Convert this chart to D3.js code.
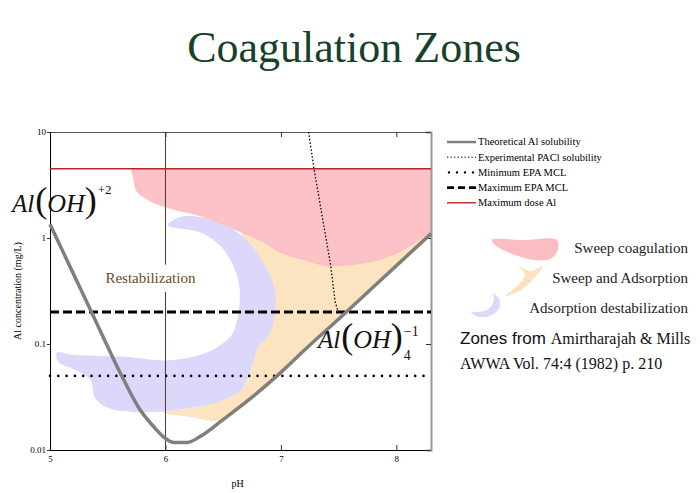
<!DOCTYPE html>
<html>
<head>
<meta charset="utf-8">
<script src="https://cdn.jsdelivr.net/npm/d3@7"></script>
<style>
  body { margin: 0; background: #fff; }
  svg { display: block; }
  text { font-family: "Liberation Serif", "Times New Roman", serif; }
</style>
</head>
<body>
<div id="chart"></div>
<script>
//axis ticks
const phTicks = [5, 6, 7, 8];
const concTicks = [0.01, 0.1, 1, 10];
const concTickLabels = ["0.01", "0.1", "1", "10"];

//reference levels (mg/L) and pH
const maxDoseAl = 4.5;
const maxEpaMcl = 0.2;
const minEpaMcl = 0.05;
const restabPH = 6;

//theoretical Al solubility [pH, mg/L]
const solubility = [
  [5.0, 1.35], [5.35, 0.21], [5.44, 0.13], [5.61, 0.053], [5.78, 0.024],
  [5.9, 0.0165], [5.98, 0.0134], [6.07, 0.0118], [6.19, 0.0118], [6.3, 0.0134],
  [6.49, 0.019], [6.71, 0.029], [7.0, 0.054], [7.23, 0.093], [7.52, 0.18], [8.3, 1.1],
];

//experimental PACl solubility [pH, mg/L]
const paclSolubility = [[7.24, 10], [7.285, 4.6], [7.43, 0.56], [7.47, 0.25], [7.5, 0.195]];

//sweep coagulation zone, lower edge (upper edge is max dose)
const sweepBottom = [
  [5.7, 4.5], [5.72, 3.7], [5.74, 2.87], [5.84, 2.31], [5.98, 1.98], [6.3, 1.6],
  [6.65, 1.13], [6.83, 0.93], [7.0, 0.72], [7.17, 0.63], [7.43, 0.54], [7.8, 0.6],
  [8.1, 0.81], [8.3, 1.15],
];

//sweep and adsorption zone outline
const sweepAdsorption = [
  [8.3, 1.2], [8.1, 0.85], [7.8, 0.63], [7.43, 0.57], [7.17, 0.66], [7.0, 0.76],
  [6.83, 0.98], [6.66, 1.16], [6.8, 0.6], [6.88, 0.25], [6.78, 0.08], [6.65, 0.036],
  [6.3, 0.026], [6.0, 0.0225], [6.22, 0.0205], [6.49, 0.019], [6.71, 0.029],
  [7.0, 0.054], [7.23, 0.093], [7.52, 0.18], [8.3, 1.1],
];

//adsorption destabilization zone outline
const adsorption = [
  [6.02, 1.34], [6.16, 1.6], [6.45, 1.43], [6.68, 1.01], [6.83, 0.63], [6.93, 0.38],
  [6.96, 0.26], [6.95, 0.21], [6.93, 0.15], [6.87, 0.11], [6.82, 0.1], [6.76, 0.067],
  [6.71, 0.046], [6.65, 0.036], [6.48, 0.029], [6.22, 0.025], [5.98, 0.023],
  [5.7, 0.023], [5.5, 0.025], [5.39, 0.031], [5.35, 0.046], [5.2, 0.058],
  [5.07, 0.068], [5.06, 0.083], [5.2, 0.079], [5.7, 0.075], [5.98, 0.07],
  [6.22, 0.075], [6.42, 0.089], [6.57, 0.12], [6.61, 0.15], [6.64, 0.23],
  [6.64, 0.35], [6.59, 0.54], [6.48, 0.83], [6.3, 1.13], [6.04, 1.28],
];

const legendItems = [
  "Theoretical Al solubility",
  "Experimental PACl solubility",
  "Minimum EPA MCL",
  "Maximum EPA MCL",
  "Maximum dose Al",
];

const colors = {
  sweep: "#fcbdc2",
  sweepAds: "#fde4c0",
  ads: "#dbd8fb",
  curve: "#7f7f7f",
  red: "#b3262a",
};

const serif = "Liberation Serif, Times New Roman, serif";

const main = () => {
  const W = 700, H = 493;
  const margin = { top: 132, right: 269, bottom: 43, left: 50 };
  const width = W - margin.left - margin.right;
  const height = H - margin.top - margin.bottom;

  const root = d3.select("#chart").append("svg")
    .attr("width", W).attr("height", H)
    .attr("font-family", serif);

  //title
  root.append("text")
    .attr("x", 354).attr("y", 62)
    .attr("text-anchor", "middle")
    .attr("font-size", 44)
    .attr("fill", "#17412a")
    .text("Coagulation Zones");

  const svg = root.append("g").attr("transform", `translate(${margin.left}, ${margin.top})`);

  const x = d3.scaleLinear().domain([5, 8.3]).range([0, width]);
  const y = d3.scaleLog().domain([0.01, 10]).range([height, 0]);

  const line = d3.line().x((d) => x(d[0])).y((d) => y(d[1]));

  //zones
  svg.append("path")
    .attr("d", line.curve(d3.curveCatmullRomClosed)(sweepAdsorption))
    .attr("fill", colors.sweepAds);
  svg.append("path")
    .attr("d", line.curve(d3.curveCatmullRomClosed)(adsorption))
    .attr("fill", colors.ads);
  svg.append("path")
    .attr("d", d3.area()
      .x((d) => x(d[0]))
      .y0(y(maxDoseAl))
      .y1((d) => y(d[1]))
      .curve(d3.curveMonotoneX)(sweepBottom))
    .attr("fill", colors.sweep)
    .attr("fill-opacity", 0.92);

  //axes
  svg.append("g")
    .attr("transform", `translate(0, ${height})`)
    .call(d3.axisBottom(x).tickValues(phTicks).tickSize(-5).tickPadding(6).tickFormat(d3.format("d")))
    .call((g) => g.selectAll("text").attr("font-size", 9).attr("font-family", serif));
  svg.append("g")
    .call(d3.axisTop(x).tickValues(phTicks).tickSize(-5).tickFormat(""))
    .call((g) => g.select(".domain").attr("stroke", "#555"));
  svg.append("g")
    .call(d3.axisLeft(y).tickValues(concTicks).tickSize(3).tickPadding(1)
      .tickFormat((d, i) => concTickLabels[i]))
    .call((g) => g.selectAll("text").attr("font-size", 9).attr("font-family", serif));
  svg.append("g")
    .attr("transform", `translate(${width}, 0)`)
    .call(d3.axisRight(y).tickValues(concTicks).tickSize(-5).tickFormat(""))
    .call((g) => g.select(".domain").attr("stroke", "#999").attr("stroke-width", 2));
  svg.selectAll(".tick line").attr("stroke", "#333");

  //restabilization pH line
  svg.append("line")
    .attr("x1", x(restabPH)).attr("x2", x(restabPH))
    .attr("y1", 0).attr("y2", height)
    .attr("stroke", "#4a3828").attr("stroke-width", 1);

  //max dose
  svg.append("line")
    .attr("x1", 0).attr("x2", width)
    .attr("y1", y(maxDoseAl)).attr("y2", y(maxDoseAl))
    .attr("stroke", colors.red).attr("stroke-width", 1.6);

  //EPA MCL lines
  svg.append("line")
    .attr("x1", 0).attr("x2", width)
    .attr("y1", y(minEpaMcl)).attr("y2", y(minEpaMcl))
    .attr("stroke", "#000").attr("stroke-width", 2.6)
    .attr("stroke-linecap", "round").attr("stroke-dasharray", "0 8.3");
  svg.append("line")
    .attr("x1", 0).attr("x2", width)
    .attr("y1", y(maxEpaMcl)).attr("y2", y(maxEpaMcl))
    .attr("stroke", "#000").attr("stroke-width", 3)
    .attr("stroke-dasharray", "9 4");

  //solubility curves
  svg.append("path")
    .attr("d", line.curve(d3.curveMonotoneX)(solubility))
    .attr("fill", "none").attr("stroke", colors.curve).attr("stroke-width", 3.5);
  svg.append("path")
    .attr("d", line.curve(d3.curveLinear)(paclSolubility))
    .attr("fill", "none").attr("stroke", "#000").attr("stroke-width", 1.3)
    .attr("stroke-dasharray", "1.5 2");

  //restabilization label
  svg.append("rect")
    .attr("x", x(5.45)).attr("y", y(0.56))
    .attr("width", x(6.4) - x(5.45)).attr("height", y(0.31) - y(0.56))
    .attr("fill", "#fff");
  svg.append("text")
    .attr("x", x(5.87)).attr("y", y(0.375))
    .attr("text-anchor", "middle")
    .attr("font-size", 15).attr("fill", "#6b4b1e")
    .text("Restabilization");

  //species labels
  const species = (g, px, py, charge, sub) => {
    const t = g.append("text").attr("x", px).attr("y", py).attr("fill", "#111");
    t.append("tspan").attr("font-style", "italic").attr("font-size", 25).text("Al");
    t.append("tspan").attr("font-size", 36).attr("dx", 1).text("(");
    t.append("tspan").attr("font-style", "italic").attr("font-size", 26).text("OH");
    t.append("tspan").attr("font-size", 36).text(")");
    if (sub) {
      t.append("tspan").attr("font-size", 14).attr("dx", 1).attr("dy", 12).text(sub);
      t.append("tspan").attr("font-size", 14).attr("dx", -7).attr("dy", -24).text(charge);
    } else {
      t.append("tspan").attr("font-size", 13).attr("dx", 1).attr("dy", -18).text(charge);
    }
  };
  species(root, 12, 212, "+2", null);
  species(root, 318, 348, "\u22121", "4");

  //axis titles
  root.append("text")
    .attr("transform", `translate(21, ${margin.top + height / 2}) rotate(-90)`)
    .attr("text-anchor", "middle").attr("font-size", 10)
    .text("Al concentration (mg/L)");
  root.append("text")
    .attr("x", margin.left + width / 2 - 3).attr("y", 487)
    .attr("text-anchor", "middle").attr("font-size", 10)
    .text("pH");

  //legend
  const lg = root.append("g").attr("transform", "translate(447, 142)");
  const styles = [
    { stroke: colors.curve, w: 2.5, dash: null },
    { stroke: "#000", w: 1, dash: "1.3 2.2" },
    { stroke: "#000", w: 2.4, dash: "0 8", cap: "round" },
    { stroke: "#000", w: 2.8, dash: "7 4" },
    { stroke: colors.red, w: 1.4, dash: null },
  ];
  legendItems.forEach((name, i) => {
    const row = lg.append("g").attr("transform", `translate(0, ${i * 15.2})`);
    row.append("line")
      .attr("x1", styles[i].cap ? 2 : 0).attr("x2", 29)
      .attr("stroke", styles[i].stroke).attr("stroke-width", styles[i].w)
      .attr("stroke-dasharray", styles[i].dash)
      .attr("stroke-linecap", styles[i].cap || "butt");
    row.append("text")
      .attr("x", 31).attr("dy", "0.33em")
      .attr("font-size", 10.5).text(name);
  });

  //zone key on the right
  const blob = d3.line().curve(d3.curveCatmullRomClosed);
  root.append("path")
    .attr("d", blob([
      [492, 240], [524, 240], [557, 240], [557, 252], [550, 259], [535, 260],
      [518, 256], [503, 250], [494, 244],
    ]))
    .attr("fill", colors.sweep);
  root.append("path")
    .attr("d", blob([
      [519, 266], [530, 271], [543, 266], [534, 278], [521, 290], [505, 296],
      [517, 286], [525, 275],
    ]))
    .attr("fill", "#fce2bd");
  root.append("path")
    .attr("d", blob([
      [493, 293], [499, 299], [500, 306], [495, 313], [486, 317], [476, 316],
      [471, 312], [479, 312], [487, 310], [492, 305], [494, 299],
    ]))
    .attr("fill", colors.ads);

  const keyText = [
    ["Sweep coagulation", 253],
    ["Sweep and Adsorption", 283],
    ["Adsorption destabilization", 313],
  ];
  keyText.forEach(([t, yy]) => {
    root.append("text")
      .attr("x", 688).attr("y", yy)
      .attr("text-anchor", "end").attr("font-size", 15).attr("fill", "#222")
      .text(t);
  });

  const src = root.append("text").attr("x", 460).attr("y", 344).attr("font-size", 16).attr("fill", "#111");
  src.append("tspan").attr("font-family", "Liberation Sans, Arial, sans-serif").attr("font-size", 17).text("Zones from ");
  src.append("tspan").text("Amirtharajah & Mills");
  root.append("text").attr("x", 460).attr("y", 369).attr("font-size", 16).attr("fill", "#111")
    .text("AWWA Vol. 74:4 (1982) p. 210");
};

main();
</script>
</body>
</html>
